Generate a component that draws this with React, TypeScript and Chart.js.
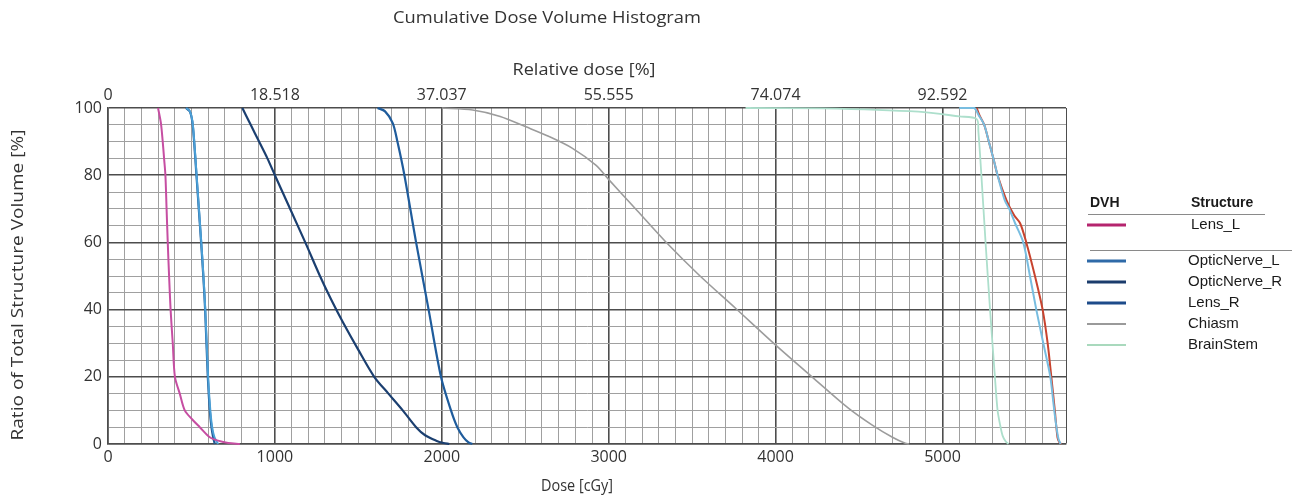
import React, { useEffect, useRef } from "react";
import { Chart, registerables } from "chart.js";

Chart.register(...registerables);

// ---- Axis ticks ----
const doseTickValues = [0, 1000, 2000, 3000, 4000, 5000];
const doseTickLabels = ["0", "1000", "2000", "3000", "4000", "5000"];
const relDoseTickLabels = ["0", "18.518", "37.037", "55.555", "74.074", "92.592"];
const volumeTickValues = [0, 20, 40, 60, 80, 100];
const volumeTickLabels = ["0", "20", "40", "60", "80", "100"];

// ---- Series (dose cGy, volume %) ----
const lensLDose = [300, 317, 327, 336, 344, 351, 358, 366, 375, 388, 401, 430, 460, 505, 550, 610, 660, 720, 790];
const lensLVolume = [100, 95.5, 90.5, 85, 80, 70, 60, 50, 40, 30, 20, 15, 10, 7.3, 5, 2, 1, 0.3, 0];

const opticNerveLDose = [469, 491, 506, 517, 531, 545, 559, 572, 583, 600, 613, 624, 638, 660];
const opticNerveLVolume = [100, 99, 96, 90, 80, 70, 60, 50, 40, 20, 10, 5, 2, 0];

const opticNerveRDose = [467, 490, 505, 516, 530, 544, 558, 571, 582, 598, 610, 620, 630, 640];
const opticNerveRVolume = [100, 99, 96, 90, 80, 70, 60, 50, 40, 20, 10, 5, 2, 0];

const lensRDose = [805, 855, 905, 955, 1000, 1091, 1182, 1270, 1337, 1410, 1500, 1595, 1680, 1766, 1846, 1900, 1966, 2010, 2045];
const lensRVolume = [100, 95, 90, 85, 80, 70, 60, 50, 43, 36, 28, 20, 15, 10, 5, 2.6, 1, 0.3, 0];

const structure5Dose = [1615, 1660, 1706, 1734, 1776, 1846, 1921, 1995, 2055, 2093, 2130, 2160, 2183];
const structure5Volume = [100, 99, 95.5, 90, 80, 60, 40, 20, 10, 5, 2, 0.5, 0];

const chiasmDose = [2000, 2185, 2350, 2504, 2643, 2783, 2923, 3002, 3170, 3341, 3541, 3760, 3999, 4218, 4438, 4577, 4700, 4777, 4800];
const chiasmVolume = [100, 99.4, 97.5, 94.4, 91.5, 88, 83, 78.6, 69.5, 60.2, 50.3, 40.4, 29.5, 20, 10.6, 5.7, 2, 0.2, 0];

const brainStemDose = [3820, 4276, 4856, 5100, 5205, 5215, 5233, 5258, 5285, 5314, 5330, 5344, 5360, 5378, 5395];
const brainStemVolume = [100, 99.9, 98.9, 97.5, 96.7, 93, 80, 60, 40, 20, 10, 6, 2.5, 0.8, 0];

const targetBlueDose = [5100, 5190, 5215, 5250, 5275, 5305, 5330, 5373, 5400, 5435, 5484, 5524, 5562, 5604, 5646, 5665, 5680, 5695, 5708];
const targetBlueVolume = [100, 100, 98, 95, 90.5, 85, 80, 72.6, 70, 65.7, 60, 50, 40, 30, 20, 12, 6, 1.5, 0];

const targetRedDose = [5205, 5220, 5250, 5275, 5305, 5330, 5383, 5430, 5465, 5502, 5554, 5600, 5630, 5652, 5673, 5689, 5700, 5712];
const targetRedVolume = [100, 98, 95, 90.5, 85, 80, 72.6, 68, 65.7, 60, 50, 40, 30, 20, 10, 2, 0.5, 0];

// ---- Legend ----
const legendNames = ["OpticNerve_L", "OpticNerve_R", "Lens_R", "Chiasm", "BrainStem"];
const legendColors = ["#2f6aa8", "#1b3c6c", "#1d4b8a", "#9a9a9a", "#a9d9bd"];

const TEXT = "#333333";

function pts(xs: number[], ys: number[]) {
  return xs.map((x, i) => ({ x, y: ys[i] }));
}

function fitText(ctx: CanvasRenderingContext2D, t: string, cx: number, cy: number, font: string, w: number, rot = 0) {
  ctx.save();
  ctx.font = font;
  const m = ctx.measureText(t).width;
  const s = w / m;
  ctx.translate(cx, cy);
  if (rot) ctx.rotate(rot);
  ctx.scale(s, 1);
  ctx.textAlign = "center";
  ctx.textBaseline = "middle";
  ctx.fillStyle = TEXT;
  ctx.fillText(t, 0, 0);
  ctx.restore();
}

const textPlugin = {
  id: "dvhTexts",
  afterDraw(chart: any) {
    const ctx: CanvasRenderingContext2D = chart.ctx;
    fitText(ctx, "Cumulative Dose Volume Histogram", 547, 18, '17px "Open Sans"', 308);
    fitText(ctx, "Relative dose [%]", 584, 70, '17px "Open Sans"', 143);
    fitText(ctx, "Dose [cGy]", 577, 486, '17px "Open Sans"', 72);
    fitText(ctx, "Ratio of Total Structure Volume [%]", 18, 285, '17px "Open Sans"', 311, -Math.PI / 2);

    // legend table
    ctx.save();
    ctx.textBaseline = "middle";
    ctx.textAlign = "left";
    ctx.fillStyle = "#1a1a1a";
    ctx.font = 'bold 14px "Liberation Sans", Arial, sans-serif';
    ctx.fillText("DVH", 1090, 203);
    ctx.fillText("Structure", 1191, 203);
    ctx.strokeStyle = "#8a8a8a";
    ctx.lineWidth = 1;
    ctx.beginPath();
    ctx.moveTo(1088, 214.5);
    ctx.lineTo(1265, 214.5);
    ctx.stroke();
    ctx.beginPath();
    ctx.moveTo(1090, 250.5);
    ctx.lineTo(1292, 250.5);
    ctx.stroke();

    ctx.font = '15px "Liberation Sans", Arial, sans-serif';
    ctx.strokeStyle = "#b5246e";
    ctx.lineWidth = 3;
    ctx.beginPath();
    ctx.moveTo(1087, 225);
    ctx.lineTo(1126, 225);
    ctx.stroke();
    ctx.fillStyle = "#1a1a1a";
    ctx.fillText("Lens_L", 1191, 225);

    legendNames.forEach((n, i) => {
      const y = 261 + i * 21;
      ctx.strokeStyle = legendColors[i];
      ctx.lineWidth = i >= 3 ? 2 : 3;
      ctx.beginPath();
      ctx.moveTo(1087, y);
      ctx.lineTo(1126, y);
      ctx.stroke();
      ctx.fillStyle = "#1a1a1a";
      ctx.fillText(n, 1188, y);
    });
    ctx.restore();
  },
};

export default function App() {
  const ref = useRef<HTMLCanvasElement | null>(null);

  useEffect(() => {
    if (!ref.current) return;
    const mk = (label: string, xs: number[], ys: number[], color: string, width: number) => ({
      label,
      data: pts(xs, ys),
      borderColor: color,
      backgroundColor: color,
      borderWidth: width,
      pointRadius: 0,
      fill: false,
      tension: 0.3,
      clip: 4,
    });

    const tickFont = { family: '"Open Sans", sans-serif', size: 16 };

    const chart = new Chart(ref.current, {
      type: "line",
      data: {
        datasets: [
          mk("Chiasm", chiasmDose, chiasmVolume, "#9c9c9c", 1.6),
          mk("BrainStem", brainStemDose, brainStemVolume, "#addfcc", 1.8),
          mk("Target", targetBlueDose, targetBlueVolume, "#78bde0", 2),
          mk("Target 2", targetRedDose, targetRedVolume, "#c8432e", 2),
          mk("Lens_L", lensLDose, lensLVolume, "#c64ea2", 2),
          mk("OpticNerve_L", opticNerveLDose, opticNerveLVolume, "#4a9fd6", 2),
          mk("OpticNerve_R", opticNerveRDose, opticNerveRVolume, "#1f5793", 2.2),
          mk("Lens_R", lensRDose, lensRVolume, "#1b3f70", 2.2),
          mk("Structure", structure5Dose, structure5Volume, "#1f5c9c", 2.2),
        ],
      },
      options: {
        responsive: false,
        animation: false,
        devicePixelRatio: 1,
        layout: { padding: { left: 0, right: 234, top: 0, bottom: 0 } },
        plugins: {
          legend: { display: false },
          title: { display: false },
          tooltip: { enabled: false },
        },
        scales: {
          x: {
            type: "linear",
            position: "bottom",
            min: 0,
            max: 5740,
            afterFit: (s: any) => {
              s.height = 54;
            },
            ticks: {
              stepSize: 100,
              autoSkip: false,
              maxRotation: 0,
              padding: 4,
              color: TEXT,
              font: tickFont,
              callback: (v: any) => {
                const i = doseTickValues.indexOf(Number(v));
                return i >= 0 ? doseTickLabels[i] : "";
              },
            },
            grid: {
              drawTicks: false,
              color: (c: any) => {
                const v = c.tick ? c.tick.value : 0;
                return v % 1000 === 0 || v === 5740 ? "#4d4d4d" : "#a0a0a0";
              },
              lineWidth: (c: any) => {
                const v = c.tick ? c.tick.value : 0;
                return v % 1000 === 0 ? 1.6 : 1;
              },
            },
            border: { color: "#4d4d4d", width: 1.6 },
          },
          x2: {
            type: "linear",
            position: "top",
            min: 0,
            max: 5740,
            afterFit: (s: any) => {
              s.height = 108;
            },
            afterBuildTicks: (s: any) => {
              s.ticks = doseTickValues.map((v) => ({ value: v }));
            },
            ticks: {
              autoSkip: false,
              maxRotation: 0,
              padding: 3,
              color: TEXT,
              font: tickFont,
              callback: (v: any) => {
                const i = doseTickValues.indexOf(Number(v));
                return i >= 0 ? relDoseTickLabels[i] : "";
              },
            },
            grid: { display: false, drawTicks: false },
            border: { display: false },
          },
          y: {
            type: "linear",
            min: 0,
            max: 100,
            afterFit: (s: any) => {
              s.width = 108;
            },
            ticks: {
              stepSize: 5,
              autoSkip: false,
              padding: 6,
              color: TEXT,
              font: tickFont,
              callback: (v: any) => {
                const i = volumeTickValues.indexOf(Number(v));
                return i >= 0 ? volumeTickLabels[i] : "";
              },
            },
            grid: {
              drawTicks: false,
              color: (c: any) => {
                const v = c.tick ? c.tick.value : 0;
                return v % 20 === 0 ? "#4d4d4d" : "#a0a0a0";
              },
              lineWidth: (c: any) => {
                const v = c.tick ? c.tick.value : 0;
                return v % 20 === 0 ? 1.6 : 1;
              },
            },
            border: { color: "#4d4d4d", width: 1.6 },
          },
        },
      },
      plugins: [textPlugin],
    });
    return () => chart.destroy();
  }, []);

  return (
    <div style={{ position: "fixed", left: 0, top: 0, width: 1300, height: 498, background: "#ffffff" }}>
      <canvas ref={ref} width={1300} height={498} style={{ display: "block", width: 1300, height: 498 }} />
    </div>
  );
}
